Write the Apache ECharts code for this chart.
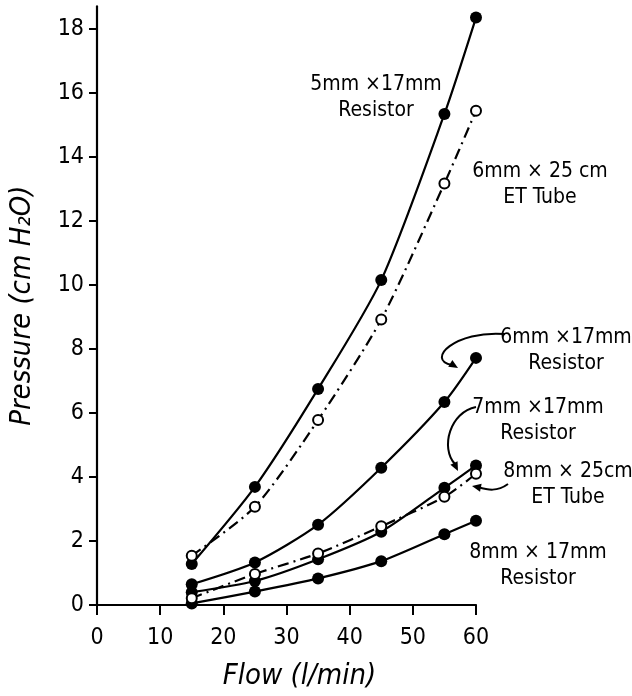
<!DOCTYPE html>
<html>
<head>
<meta charset="utf-8">
<script src="https://cdn.jsdelivr.net/npm/echarts@6/dist/echarts.min.js"></script>
<style>
  html, body { margin: 0; padding: 0; background: #fff; }
  #box { width: 632px; height: 696px; }
</style>
</head>
<body>
<div id="box"></div>
<script>
// flow (l/min) at which each pressure was measured
const flow = [15, 25, 35, 45, 55, 60]
// pressure (cm H2O)
const res5x17 = [1.28, 3.69, 6.75, 10.15, 15.34, 18.35]
const et6x25 = [1.54, 3.07, 5.78, 8.92, 13.17, 15.44]
const res6x17 = [0.65, 1.33, 2.51, 4.29, 6.34, 7.72]
const res7x17 = [0.40, 0.75, 1.43, 2.29, 3.66, 4.36]
const et8x25 = [0.21, 0.97, 1.61, 2.46, 3.38, 4.10]
const res8x17 = [0.05, 0.42, 0.83, 1.37, 2.21, 2.63]
const yTicks = [0, 2, 4, 6, 8, 10, 12, 14, 16, 18]

const FONT = '"DejaVu Sans Condensed", "DejaVu Sans", sans-serif'

const pairs = ys => flow.map((x, i) => [x, ys[i]])

// filled dots, solid line
function resistor (name, ys) {
  return {
    name: name,
    type: 'line',
    data: pairs(ys),
    smooth: 0.25,
    symbol: 'circle',
    symbolSize: 12,
    itemStyle: { color: '#000' },
    lineStyle: { color: '#000', width: 2.2 },
    z: 3
  }
}
// open dots, dash-dot line
function tube (name, ys) {
  return {
    name: name,
    type: 'line',
    data: pairs(ys),
    smooth: 0.25,
    symbol: 'circle',
    symbolSize: 10,
    itemStyle: { color: '#fff', borderColor: '#000', borderWidth: 2 },
    lineStyle: { color: '#000', width: 2.2, type: [11, 5, 2, 5] },
    z: 4
  }
}

function label (lines, x, y) {
  return lines.map((t, i) => ({
    type: 'text',
    style: {
      text: t, x: x, y: y + i * 26,
      fill: '#000', font: '21px ' + FONT,
      align: 'center', verticalAlign: 'middle'
    }
  }))
}
function curve (x1, y1, cpx1, cpy1, cpx2, cpy2, x2, y2) {
  return {
    type: 'bezierCurve',
    shape: { x1, y1, cpx1, cpy1, cpx2, cpy2, x2, y2 },
    style: { stroke: '#000', lineWidth: 2, fill: null }
  }
}
// small arrowhead at (x, y) pointing in direction (dx, dy)
function head (x, y, dx, dy) {
  const l = Math.hypot(dx, dy)
  const ux = dx / l
  const uy = dy / l
  const s = 9
  const w = 4
  return {
    type: 'polygon',
    shape: {
      points: [
        [x, y],
        [x - ux * s - uy * w, y - uy * s + ux * w],
        [x - ux * s + uy * w, y - uy * s - ux * w]
      ]
    },
    style: { fill: '#000' }
  }
}

const myEcharts = echarts.init(document.getElementById('box'))
const options = {
  animation: false,
  backgroundColor: '#fff',
  grid: { left: 95, right: 156, top: 6.4, bottom: 89.3 },
  xAxis: {
    type: 'value',
    min: 0,
    max: 60,
    interval: 10,
    name: 'Flow (l/min)',
    nameLocation: 'middle',
    nameGap: 57,
    nameTextStyle: { fontFamily: FONT, fontSize: 29, fontStyle: 'italic', color: '#000', padding: [0, 0, 0, 26] },
    axisLine: { lineStyle: { color: '#000', width: 2.2 } },
    axisTick: { inside: false, length: 10, lineStyle: { color: '#000', width: 2 } },
    axisLabel: { margin: 22, fontFamily: FONT, fontSize: 23, color: '#000', showMinLabel: true },
    splitLine: { show: false }
  },
  yAxis: {
    type: 'value',
    min: 0,
    max: 18.7,
    interval: 2,
    name: 'Pressure (cm H₂O)',
    nameLocation: 'middle',
    nameGap: 60,
    nameRotate: 90,
    nameTextStyle: { fontFamily: FONT, fontSize: 29, fontStyle: 'italic', color: '#000' },
    axisLine: { show: true, lineStyle: { color: '#000', width: 2.2 } },
    axisTick: { show: true, length: 8, customValues: yTicks, lineStyle: { color: '#000', width: 2 } },
    axisLabel: { margin: 13, fontFamily: FONT, fontSize: 23, color: '#000', customValues: yTicks },
    splitLine: { show: false }
  },
  series: [
    resistor('5mm x 17mm Resistor', res5x17),
    tube('6mm x 25cm ET Tube', et6x25),
    resistor('6mm x 17mm Resistor', res6x17),
    resistor('7mm x 17mm Resistor', res7x17),
    tube('8mm x 25cm ET Tube', et8x25),
    resistor('8mm x 17mm Resistor', res8x17)
  ],
  graphic: [].concat(
    label(['5mm ×17mm', 'Resistor'], 376, 85),
    label(['6mm × 25 cm', 'ET Tube'], 540, 172),
    label(['6mm ×17mm', 'Resistor'], 566, 338),
    label(['7mm ×17mm', 'Resistor'], 538, 408),
    label(['8mm × 25cm', 'ET Tube'], 568, 472),
    label(['8mm × 17mm', 'Resistor'], 538, 553),
    [
      curve(505, 334, 455, 330, 425, 360, 452, 365),
      head(458, 368, 1, 0.6),
      curve(476, 407, 450, 412, 440, 448, 455, 464),
      head(458, 471, 0.5, 1),
      curve(508, 484, 497, 492, 488, 490, 478, 487),
      head(472, 486, -1, -0.2)
    ]
  )
}
myEcharts.setOption(options)
</script>
</body>
</html>
